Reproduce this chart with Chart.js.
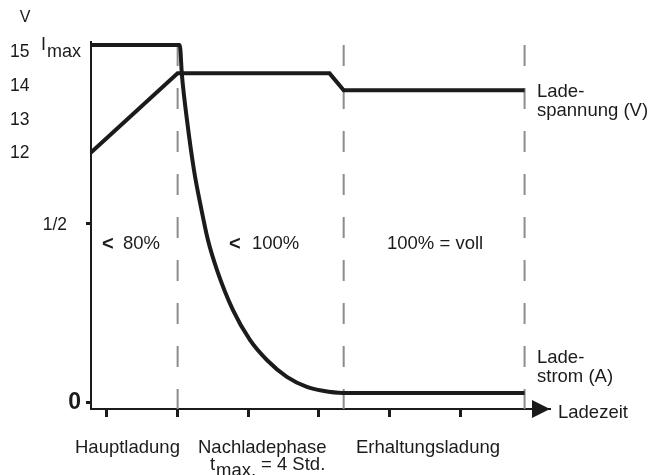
<!DOCTYPE html>
<html>
<head>
<meta charset="utf-8">
<script src="https://cdn.jsdelivr.net/npm/chart.js@4.4.0/dist/chart.umd.min.js"></script>
<style>
  body { margin: 0; background: #fff; }
  #wrap { width: 664px; height: 475px; }
</style>
</head>
<body>
<div id="wrap"><canvas id="chart" width="664" height="475"></canvas></div>
<script>
// time axis (one unit = one tick step), tick marks only
const timeTicks = [0, 1, 2, 3, 4, 5];
// phase boundaries (dashed lines)
const phaseBounds = [1.0, 3.35, 5.91];

// Ladespannung (V)
const voltTime = [-0.226, 1.0, 3.15, 3.35, 5.91];
const voltValues = [12.0, 14.35, 14.35, 13.85, 13.85];
const voltTicks = [12, 13, 14, 15];

// Ladestrom, relative to Imax
const currTime = [-0.226, 1.03, 1.061, 1.132, 1.231, 1.330, 1.429, 1.556, 1.782, 2.023, 2.263, 2.546, 2.829, 3.055, 3.338, 5.91];
const currValues = [1.0, 1.0, 0.916, 0.791, 0.651, 0.547, 0.455, 0.372, 0.260, 0.176, 0.120, 0.073, 0.045, 0.034, 0.028, 0.028];
const currTicks = [0, 0.5];
const currTickLabels = ['0', '1/2'];

const INK = '#1b1b1b';
const FONT = '"Liberation Sans", Arial, sans-serif';

function pts(xs, ys) {
    return xs.map((x, i) => ({ x: x, y: ys[i] }));
}

const datasets = [];
phaseBounds.forEach((b) => {
    datasets.push({
        data: [{ x: b, y: 1.0 }, { x: b, y: -0.0168 }],
        yAxisID: 'yI',
        borderColor: '#8c8c8c',
        borderWidth: 2,
        borderDash: [21, 22],
        pointRadius: 0,
        order: 2
    });
});
datasets.push({
    data: pts(voltTime, voltValues),
    yAxisID: 'yV',
    borderColor: INK,
    borderWidth: 4,
    borderJoinStyle: 'miter',
    tension: 0,
    pointRadius: 0,
    order: 1
});
datasets.push({
    data: pts(currTime, currValues),
    yAxisID: 'yI',
    borderColor: INK,
    borderWidth: 4,
    borderJoinStyle: 'miter',
    cubicInterpolationMode: 'monotone',
    pointRadius: 0,
    order: 1
});

// arrow head on the time axis + all the texts
const decor = {
    id: 'decor',
    afterDraw(chart) {
        const ctx = chart.ctx;
        const area = chart.chartArea;
        const yV = chart.scales.yV;
        const yI = chart.scales.yI;
        ctx.save();
        ctx.fillStyle = INK;

        // arrow
        ctx.beginPath();
        ctx.moveTo(area.right, area.bottom);
        ctx.lineTo(area.right - 18, area.bottom - 9);
        ctx.lineTo(area.right - 18, area.bottom + 9);
        ctx.closePath();
        ctx.fill();

        ctx.font = '17.5px ' + FONT;
        ctx.textBaseline = 'middle';
        ctx.textAlign = 'left';
        voltTicks.forEach((v) => {
            ctx.fillText(String(v), 10, yV.getPixelForValue(v) + 1);
        });
        ctx.textAlign = 'center';
        ctx.font = '16px ' + FONT;
        ctx.fillText('V', 25, 18);

        ctx.textAlign = 'right';
        ctx.font = '17.5px ' + FONT;
        ctx.fillText(currTickLabels[1], 67, yI.getPixelForValue(currTicks[1]) + 1);
        ctx.font = 'bold 23px ' + FONT;
        ctx.fillText(currTickLabels[0], 81, yI.getPixelForValue(currTicks[0]));

        // Imax
        ctx.textBaseline = 'alphabetic';
        ctx.textAlign = 'left';
        ctx.font = '18px ' + FONT;
        ctx.fillText('I', 41, 50);
        ctx.fillText('max', 47, 57);

        // phase percentages
        ctx.font = 'bold 20px ' + FONT;
        ctx.fillText('<', 102, 250);
        ctx.fillText('<', 229, 250);
        ctx.font = '18.5px ' + FONT;
        ctx.fillText('80%', 123, 249);
        ctx.fillText('100%', 252, 249);
        ctx.fillText('100% = voll', 387, 249);

        // curve names
        ctx.fillText('Lade-', 537, 97);
        ctx.fillText('spannung (V)', 537, 116);
        ctx.fillText('Lade-', 537, 363);
        ctx.fillText('strom (A)', 537, 382);
        ctx.fillText('Ladezeit', 558, 418);

        // phase names
        ctx.fillText('Hauptladung', 75, 453);
        ctx.fillText('Nachladephase', 198, 453);
        ctx.fillText('Erhaltungsladung', 356, 453);
        ctx.fillText('t', 210, 470);
        ctx.fillText('max.', 216, 476);
        ctx.fillText('= 4 Std.', 261, 470);
        ctx.restore();
    }
};

new Chart(document.getElementById('chart'), {
    type: 'line',
    data: { datasets: datasets },
    options: {
        responsive: false,
        devicePixelRatio: 1,
        animation: false,
        clip: false,
        layout: { padding: { top: 42, right: 114, left: 0, bottom: 0 } },
        plugins: { legend: { display: false }, tooltip: { enabled: false } },
        scales: {
            x: {
                type: 'linear',
                min: -0.226,
                max: 6.27,
                afterBuildTicks: (axis) => { axis.ticks = timeTicks.map((v) => ({ value: v })); },
                afterFit: (axis) => { axis.height = 66; },
                border: { display: true, color: INK, width: 2 },
                grid: { drawOnChartArea: false, drawTicks: true, tickLength: 8, tickWidth: 3, tickColor: INK },
                ticks: { display: false }
            },
            yI: {
                type: 'linear',
                position: 'left',
                min: -0.0168,
                max: 1.0084,
                afterBuildTicks: (axis) => { axis.ticks = currTicks.map((v) => ({ value: v })); },
                afterFit: (axis) => { axis.width = 91; },
                border: { display: true, color: INK, width: 2 },
                grid: { drawOnChartArea: false, drawTicks: true, tickLength: 5, tickWidth: 3, tickColor: INK },
                ticks: { display: false }
            },
            yV: {
                type: 'linear',
                display: false,
                min: 4.39,
                max: 15.28
            }
        }
    },
    plugins: [decor]
});
</script>
</body>
</html>
